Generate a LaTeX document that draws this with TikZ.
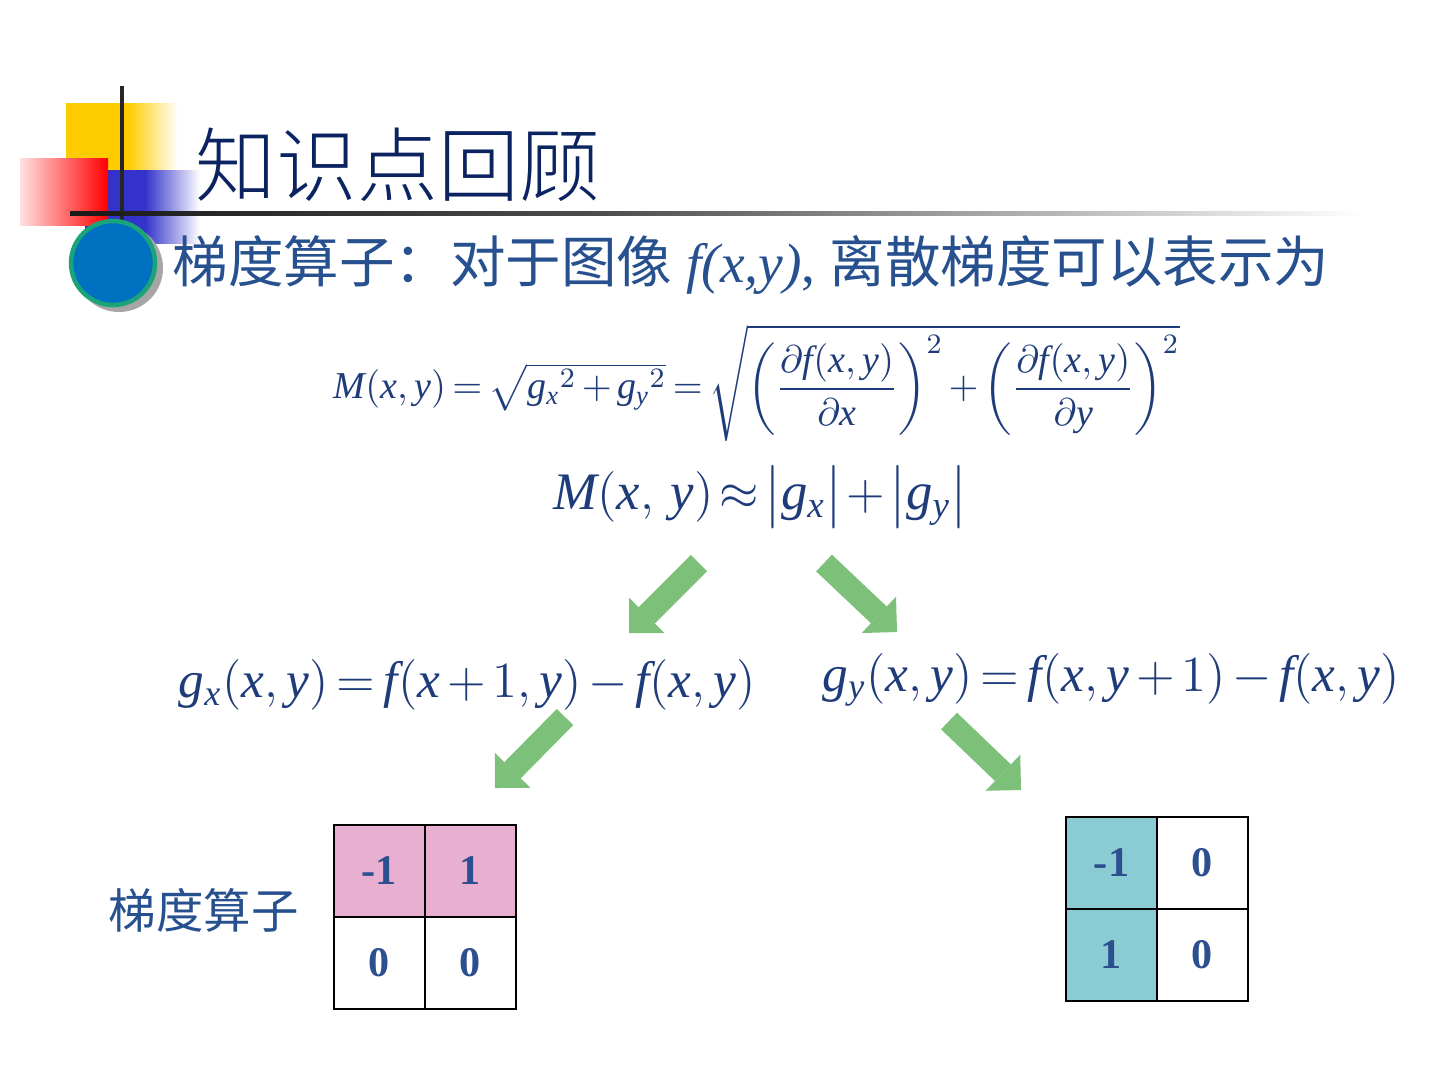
\documentclass[tikz,border=0pt]{standalone}
\usepackage{amsmath}
\usepackage{fontspec}
\setmainfont{Liberation Serif}
\newfontfamily\cjk{Noto Sans CJK SC}
\newfontfamily\cjkthin{Noto Sans CJK SC}[UprightFont=* Light]
\edef\eqfam{\rmdefault}
\DeclareSymbolFont{tletters}{TU}{\eqfam}{m}{it}
\DeclareSymbolFont{tupright}{TU}{\eqfam}{m}{n}
\DeclareMathSymbol{M}{\mathalpha}{tletters}{`M}
\DeclareMathSymbol{f}{\mathalpha}{tletters}{`f}
\DeclareMathSymbol{g}{\mathalpha}{tletters}{`g}
\DeclareMathSymbol{x}{\mathalpha}{tletters}{`x}
\DeclareMathSymbol{y}{\mathalpha}{tletters}{`y}
\DeclareMathSymbol{1}{\mathalpha}{tupright}{`1}
\DeclareMathSymbol{2}{\mathalpha}{tupright}{`2}
\DeclareMathSymbol{(}{\mathopen}{tupright}{`(}
\DeclareMathSymbol{)}{\mathclose}{tupright}{`)}
\thickmuskip=3mu plus 1mu
\medmuskip=2.5mu plus 1mu
\usetikzlibrary{arrows.meta}
\definecolor{titlenavy}{HTML}{0B2360}
\definecolor{textblue}{HTML}{27508F}
\definecolor{eqblue}{HTML}{1F3C7A}
\definecolor{numblue}{HTML}{2B4F8F}
\definecolor{decoyellow}{HTML}{FFCC00}
\definecolor{decored}{HTML}{FF0000}
\definecolor{decoblue}{HTML}{3333CC}
\definecolor{bulletblue}{HTML}{0070C0}
\definecolor{bulletgreen}{HTML}{1BA37A}
\definecolor{arrowgreen}{HTML}{7CC07A}
\definecolor{opink}{HTML}{E8AFD0}
\definecolor{oteal}{HTML}{8BCBD3}

\begin{document}
\begin{tikzpicture}[x=0.1mm,y=-0.1mm,
  txt/.style={inner sep=0pt, anchor=west},
  eq/.style={inner sep=0pt, anchor=west, text=eqblue},
  cell/.style={draw=black, line width=0.7pt, minimum width=9.1mm, minimum height=9.2mm,
    inner sep=0pt, text=numblue, font=\fontsize{12}{14}\selectfont\bfseries},
  greenarrow/.style={draw=arrowgreen, line width=2.3mm,
    -{Triangle[width=5mm,length=2.5mm,line width=0pt]}}]
\useasboundingbox (0,0) rectangle (1440,1080);
% Corner Decoration Blocks
\fill[decoyellow] (66,103) rectangle (128,190);
\shade[left color=decoyellow, right color=white] (128,103) rectangle (178,190);
\fill[decoblue] (85,170) rectangle (145,243);
\shade[left color=decoblue, right color=white] (145,170) rectangle (200,243);
\shade[left color=decored!12, right color=decored] (20,158) rectangle (108,225);
% Rule Lines
\draw[black!85, line width=0.4mm] (122,86) -- (122,220);
\shade[left color=black!90, right color=black!70] (70,211) rectangle (600,215);
\shade[left color=black!70, right color=white] (600,211) rectangle (1365,215);
% Round Bullet
\fill[gray!70] (119,268) circle (44);
\draw[fill=bulletblue, draw=bulletgreen, line width=0.45mm] (113,263) circle (42);
% Title and Lead Line
\node[txt, text=titlenavy, font=\fontsize{23}{26}\selectfont\cjkthin] (title) at (195,165) {知识点回顾};
\node[txt, text=textblue, font=\fontsize{15.8}{18}\selectfont] (lead) at (172,265)
  {{\cjk 梯度算子：对于图像} \textit{f(x,y)}, {\cjk 离散梯度可以表示为}};
% Formulas
\node[eq, font=\fontsize{10.8}{14.5}\selectfont] (magn) at (333,383)
  {$M(x,y)=\sqrt{g_x{}^{2}+g_y{}^{2}}=\sqrt{\left(\dfrac{\partial f(x,y)}{\partial x}\right)^{2}+\left(\dfrac{\partial f(x,y)}{\partial y}\right)^{2}}$};
\node[eq, font=\fontsize{15}{18.5}\selectfont] (approx) at (553,497)
  {\thickmuskip=2mu\medmuskip=1.5mu$M(x,\,y)\approx\bigl|g_x\bigr|+\bigl|g_y\bigr|$};
\node[eq, font=\fontsize{14.6}{18}\selectfont] (gxeq) at (178,685)
  {$g_x(x,y)=f(x+1,y)-f(x,y)$};
\node[eq, font=\fontsize{14.6}{18}\selectfont] (gyeq) at (822,680)
  {$g_y(x,y)=f(x,y+1)-f(x,y)$};
% Arrow Ends
\coordinate (dl0) at (699,563);
\coordinate (dl1) at (629,633);
\coordinate (dr0) at (824,563);
\coordinate (dr1) at (897,632);
\coordinate (xl0) at (565,717);
\coordinate (xl1) at (495,788);
\coordinate (yr0) at (949,721);
\coordinate (yr1) at (1021,790);
\foreach \from/\to in {dl0/dl1,dr0/dr1,xl0/xl1,yr0/yr1}
  \draw[greenarrow] (\from) -- (\to);
% Operator Label
\node[txt, text=textblue, font=\fontsize{13.5}{16}\selectfont\cjk] (oplabel) at (108,910) {梯度算子};
% Horizontal Operator Cells
\foreach [count=\i] \cval/\cfill in {-1/opink,1/opink,0/white,0/white}{
  \pgfmathsetmacro{\cx}{379.5+91*mod(\i-1,2)}
  \pgfmathsetmacro{\cy}{871+92*int((\i-1)/2)}
  \node[cell, fill=\cfill] (hx\i) at (\cx,\cy) {\cval};
}
% Vertical Operator Cells
\foreach [count=\i] \cval/\cfill in {-1/oteal,0/white,1/oteal,0/white}{
  \pgfmathsetmacro{\cx}{1111.5+91*mod(\i-1,2)}
  \pgfmathsetmacro{\cy}{863+92*int((\i-1)/2)}
  \node[cell, fill=\cfill] (vy\i) at (\cx,\cy) {\cval};
}
\end{tikzpicture}
\end{document}
